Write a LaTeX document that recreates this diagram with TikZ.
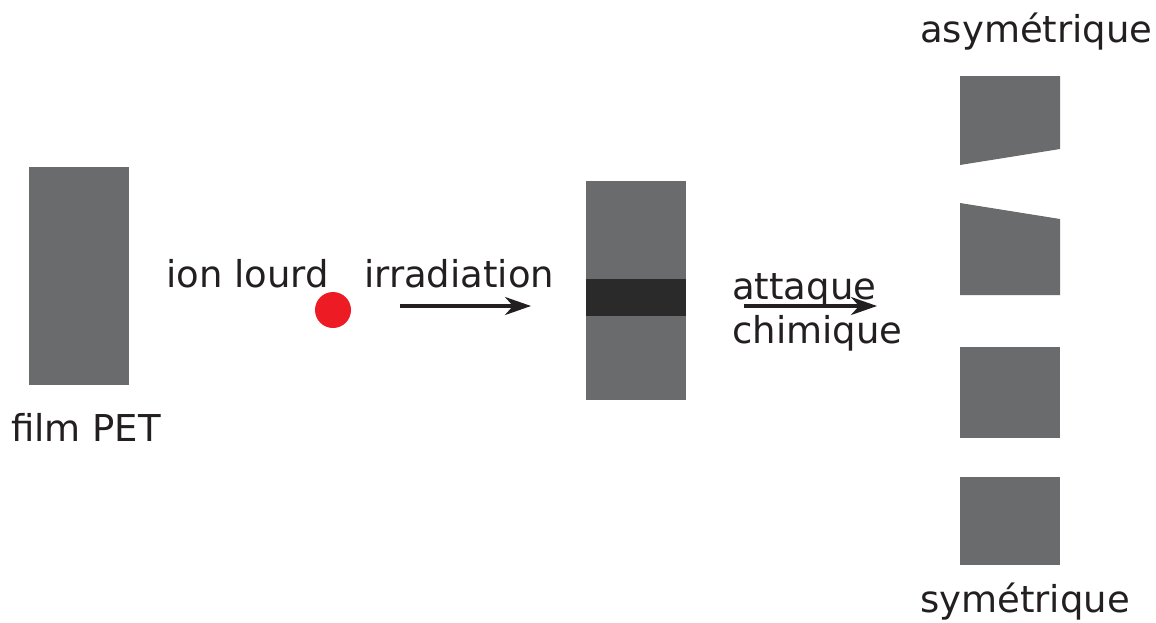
\documentclass[tikz,border=0pt]{standalone}
\usepackage{fontspec}
\setmainfont{DejaVu Sans}
\usetikzlibrary{arrows.meta}
\definecolor{film}{HTML}{6A6B6D}
\definecolor{band}{HTML}{2B2A2A}
\definecolor{ion}{HTML}{ED1C24}
\definecolor{txt}{HTML}{231F20}
\tikzset{
  lbl/.style={anchor=base west,inner sep=0pt,text=txt,font=\fontsize{37}{41}\selectfont},
  flow/.style={draw=txt,line width=3.2pt,-{Stealth[length=26pt,width=18pt,inset=8pt]}},
  filmbox/.style={fill=film,draw=none}
}
\begin{document}
\begin{tikzpicture}[x=1pt,y=-1pt]
\useasboundingbox (0,0) rectangle (1156,622);
% PET film
\fill[filmbox] (29,167) rectangle (129,385);
\node[lbl] (pet) at (11,441) {film PET};
% ion
\node[lbl] (ionlbl) at (166,287) {ion lourd};
\fill[ion] (333,310) circle (18);
\node[lbl] (irr) at (364,287) {irradiation};
\coordinate (a1s) at (400,306);
\coordinate (a1e) at (531,306);
\draw[flow] (a1s) -- (a1e);
% irradiated film
\fill[filmbox] (586,181) rectangle (686,400);
\fill[band] (586,279) rectangle (686,316);
% etching
\node[lbl] (att) at (732,299) {attaque};
\node[lbl] (chim) at (732,343) {chimique};
\coordinate (a2s) at (744,306);
\coordinate (a2e) at (877,306);
\draw[flow] (a2s) -- (a2e);
% results
\node[lbl] (asym) at (920,42) {asymétrique};
\fill[filmbox] (960,76) -- (1060,76) -- (1060,149) -- (960,165) -- cycle;
\fill[filmbox] (960,203) -- (1060,219) -- (1060,295) -- (960,295) -- cycle;
\fill[filmbox] (960,347) rectangle (1060,438);
\fill[filmbox] (960,477) rectangle (1060,565);
\node[lbl] (sym) at (920,612) {symétrique};
\end{tikzpicture}
\end{document}
